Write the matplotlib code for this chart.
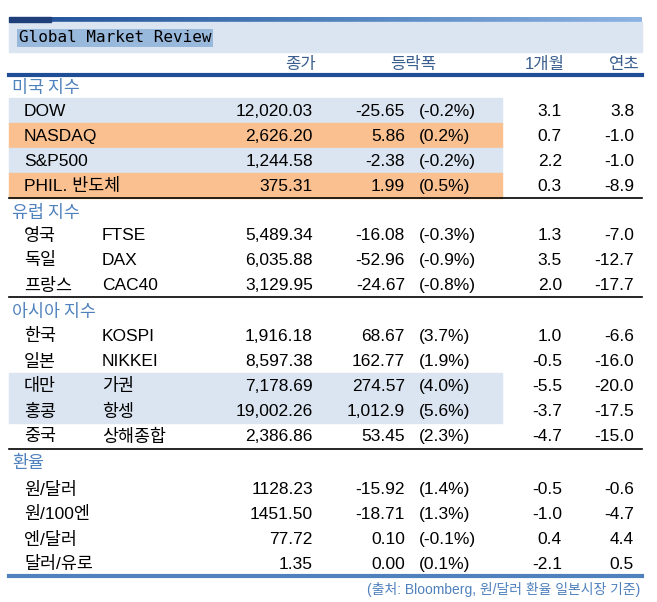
import matplotlib
matplotlib.use("Agg")
import matplotlib.pyplot as plt
import numpy as np
from matplotlib.patches import Rectangle
from matplotlib import font_manager as fm
from matplotlib.colors import LinearSegmentedColormap

cjk = [f.name for f in fm.fontManager.ttflist if "CJK" in f.name]
pref = [n for n in cjk if "KR" in n] or cjk
KNAME = pref[0] if pref else "Noto Sans CJK KR"
FONT = ["Liberation Sans", KNAME]
KFONT = [KNAME]

sections = ["미국 지수", "유럽 지수", "아시아 지수", "환율"]
names = [["DOW", "NASDAQ", "S&P500", "PHIL. 반도체"],
         ["영국", "독일", "프랑스"],
         ["한국", "일본", "대만", "홍콩", "중국"],
         ["원/달러", "원/100엔", "엔/달러", "달러/유로"]]
subs = [["", "", "", ""],
        ["FTSE", "DAX", "CAC40"],
        ["KOSPI", "NIKKEI", "가권", "항셍", "상해종합"],
        ["", "", "", ""]]
close = [["12,020.03", "2,626.20", "1,244.58", "375.31"],
         ["5,489.34", "6,035.88", "3,129.95"],
         ["1,916.18", "8,597.38", "7,178.69", "19,002.26", "2,386.86"],
         ["1128.23", "1451.50", "77.72", "1.35"]]
change = [["-25.65", "5.86", "-2.38", "1.99"],
          ["-16.08", "-52.96", "-24.67"],
          ["68.67", "162.77", "274.57", "1,012.9", "53.45"],
          ["-15.92", "-18.71", "0.10", "0.00"]]
pct = [["(-0.2%)", "(0.2%)", "(-0.2%)", "(0.5%)"],
       ["(-0.3%)", "(-0.9%)", "(-0.8%)"],
       ["(3.7%)", "(1.9%)", "(4.0%)", "(5.6%)", "(2.3%)"],
       ["(1.4%)", "(1.3%)", "(-0.1%)", "(0.1%)"]]
m1 = [["3.1", "0.7", "2.2", "0.3"],
      ["1.3", "3.5", "2.0"],
      ["1.0", "-0.5", "-5.5", "-3.7", "-4.7"],
      ["-0.5", "-1.0", "0.4", "-2.1"]]
ytd = [["3.8", "-1.0", "-1.0", "-8.9"],
       ["-7.0", "-12.7", "-17.7"],
       ["-6.6", "-16.0", "-20.0", "-17.5", "-15.0"],
       ["-0.6", "-4.7", "4.4", "0.5"]]
shade = [["b", "o", "b", "o"], ["", "", ""], ["", "", "b", "b", ""], ["", "", "", ""]]
headers = ["종가", "등락폭", "1개월", "연초"]

W, H = 657, 602
fig = plt.figure(figsize=(W / 100, H / 100), dpi=100)
ax = fig.add_axes([0, 0, 1, 1])
ax.set_xlim(0, W)
ax.set_ylim(H, 0)
ax.axis("off")

LB = "#dbe5f1"
OR = "#fac090"
BLUE = "#4f81bd"
L, R = 9, 642
VA = "center_baseline"

grad = np.linspace(0, 1, 256).reshape(1, -1)
cm = LinearSegmentedColormap.from_list("g", ["#1f4e96", "#4f81bd", "#8db3e2"])
ax.imshow(grad, extent=(L, R, 22, 17), cmap=cm, aspect="auto", zorder=1)
ax.add_patch(Rectangle((L, 17), 42, 5, color="#1f3f7a", zorder=2))
ax.add_patch(Rectangle((L, 22), R - L, 30, color=LB, zorder=1))
ax.text(19, 38, "Global Market Review", fontsize=11.5, family="DejaVu Sans Mono",
        va="center", ha="left", zorder=3,
        bbox=dict(boxstyle="square,pad=0.12", fc="#98b8dc", ec="none"))

hx = [316, 413, 565, 640]
has = ["right", "center", "right", "right"]
for h, x, a in zip(headers, hx, has):
    ax.text(x, 63, h, fontsize=12, family=FONT, ha=a, va=VA, color="#3a5f8f")
ax.plot([L, R], [75, 75], color="#1f4e96", lw=3)

sec_y = [86, 211, 310, 461]
row_start = [110, 234, 335, 488]
end_lines = [(198, "black", 1.2), (297, "black", 1.2), (449, "black", 1.2), (576, BLUE, 3)]
rh = 25
for s in range(4):
    ax.text(12, sec_y[s], sections[s], fontsize=12.5, family=KFONT, color=BLUE,
            ha="left", va=VA)
    for i in range(len(names[s])):
        y = row_start[s] + i * rh
        c = {"b": LB, "o": OR}.get(shade[s][i])
        if c:
            ax.add_patch(Rectangle((L, y - rh / 2), 493, rh, color=c, zorder=0))
        ax.text(24, y, names[s][i], fontsize=12.5, family=FONT, ha="left", va=VA)
        if subs[s][i]:
            ax.text(102, y, subs[s][i], fontsize=12.5, family=FONT, ha="left", va=VA)
        ax.text(313, y, close[s][i], fontsize=12.5, family=FONT, ha="right", va=VA)
        ax.text(405, y, change[s][i], fontsize=12.5, family=FONT, ha="right", va=VA)
        ax.text(419, y, pct[s][i], fontsize=12.5, family=FONT, ha="left", va=VA)
        ax.text(562, y, m1[s][i], fontsize=12.5, family=FONT, ha="right", va=VA)
        ax.text(634, y, ytd[s][i], fontsize=12.5, family=FONT, ha="right", va=VA)
    yl, col, lw = end_lines[s]
    ax.plot([L, R], [yl, yl], color=col, lw=lw)

ax.text(640, 588, "(출처: Bloomberg, 원/달러 환율 일본시장 기준)", fontsize=10,
        family=FONT, color=BLUE, ha="right", va=VA)

fig.savefig("out.png", dpi=100)
